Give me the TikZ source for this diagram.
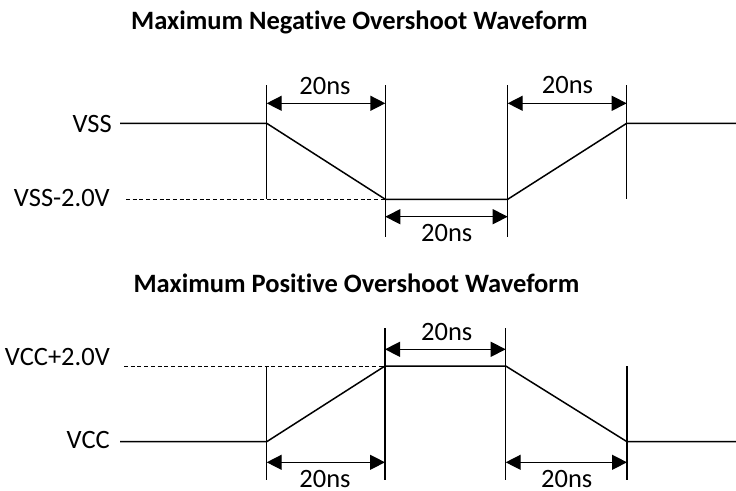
\documentclass[tikz,border=0pt]{standalone}
\usepackage{fontspec}
\setmainfont{Carlito}[Ligatures=NoCommon]
\usetikzlibrary{arrows.meta}
\begin{document}
\begin{tikzpicture}[x=1pt,y=-1pt,
  wave/.style={line width=1.5pt, line join=miter},
  guide/.style={line width=1.4pt},
  dim/.style={line width=1.4pt, {Triangle[length=15pt,width=15pt]}-{Triangle[length=15pt,width=15pt]}},
  lvl/.style={line width=0.8pt, dash pattern=on 4pt off 2.7pt},
  lbl/.style={font=\fontsize{26.5}{30}\selectfont, inner sep=0pt, anchor=base},
  tim/.style={lbl, text depth=0pt, text height=17pt},
  rlbl/.style={lbl, anchor=base east},
  ttl/.style={font=\fontsize{26.5}{30}\selectfont\bfseries, inner sep=0pt, anchor=base}]
\useasboundingbox (0,0) rectangle (736,490);

% ---------- Top: negative overshoot ----------
\node[ttl] (t1) at (359.5,29.3) {Maximum Negative Overshoot Waveform};

\coordinate (a0) at (120,123.3);
\coordinate (a1) at (266.7,123.3);
\coordinate (a2) at (385.3,199.3);
\coordinate (a3) at (507.7,199.3);
\coordinate (a4) at (626.7,123.3);
\coordinate (a5) at (736,123.3);
\coordinate (ad) at (126,199.3);

\node[rlbl] (vss) at (112,132.3) {VSS};
\node[rlbl] (vssm) at (110,206.7) {VSS-2.0V};

\draw[lvl] (ad) -- (a2);
\draw[wave] (a0) -- (a1) -- (a2) -- (a3) -- (a4) -- (a5);

\coordinate (g1t) at (266.7,85);   \coordinate (g1b) at (266.7,199.3);
\coordinate (g2t) at (385.3,85);   \coordinate (g2b) at (385.3,236.7);
\coordinate (g3t) at (507.7,85);   \coordinate (g3b) at (507.7,236.7);
\coordinate (g4t) at (626.7,85);   \coordinate (g4b) at (626.7,199.3);
\draw[guide] (g1t) -- (g1b);
\draw[guide] (g2t) -- (g2b);
\draw[guide] (g3t) -- (g3b);
\draw[guide] (g4t) -- (g4b);

\coordinate (d1l) at (266.7,103.3); \coordinate (d1r) at (385.3,103.3);
\coordinate (d2l) at (385.3,216.7); \coordinate (d2r) at (507.7,216.7);
\coordinate (d3l) at (507.7,103.3); \coordinate (d3r) at (626.7,103.3);
\draw[dim] (d1l) -- (d1r);
\draw[dim] (d2l) -- (d2r);
\draw[dim] (d3l) -- (d3r);
\node[tim] (n1) at (325,94) {20ns};
\node[tim] (n2) at (446.7,241.7) {20ns};
\node[tim] (n3) at (567.5,93.5) {20ns};

% ---------- Bottom: positive overshoot ----------
\node[ttl] (t2) at (356.5,292) {Maximum Positive Overshoot Waveform};

\coordinate (b0) at (120,441.7);
\coordinate (b1) at (266.7,441.7);
\coordinate (b2) at (385,366);
\coordinate (b3) at (505.7,366);
\coordinate (b4) at (627,441.7);
\coordinate (b5) at (736,441.7);
\coordinate (bd) at (124,366);

\node[rlbl] (vccp) at (110,365) {VCC+2.0V};
\node[rlbl] (vcc) at (110,448.3) {VCC};

\draw[lvl] (bd) -- (b2);
\draw[wave] (b0) -- (b1) -- (b2) -- (b3) -- (b4) -- (b5);

\coordinate (h1t) at (266.7,366); \coordinate (h1b) at (266.7,480);
\coordinate (h2t) at (385,328);   \coordinate (h2b) at (385,480);
\coordinate (h3t) at (505.7,328); \coordinate (h3b) at (505.7,480);
\coordinate (h4t) at (627,366);   \coordinate (h4b) at (627,480);
\draw[guide] (h1t) -- (h1b);
\draw[guide] (h2t) -- (h2b);
\draw[guide] (h3t) -- (h3b);
\draw[guide] (h4t) -- (h4b);

\coordinate (e1l) at (266.7,462.3); \coordinate (e1r) at (385,462.3);
\coordinate (e2l) at (385,349.3);   \coordinate (e2r) at (505.7,349.3);
\coordinate (e3l) at (505.7,462.3); \coordinate (e3r) at (627,462.3);
\draw[dim] (e1l) -- (e1r);
\draw[dim] (e2l) -- (e2r);
\draw[dim] (e3l) -- (e3r);
\node[tim] (m1) at (325,487) {20ns};
\node[tim] (m2) at (446.7,340.7) {20ns};
\node[tim] (m3) at (566.7,487) {20ns};
\end{tikzpicture}
\end{document}
